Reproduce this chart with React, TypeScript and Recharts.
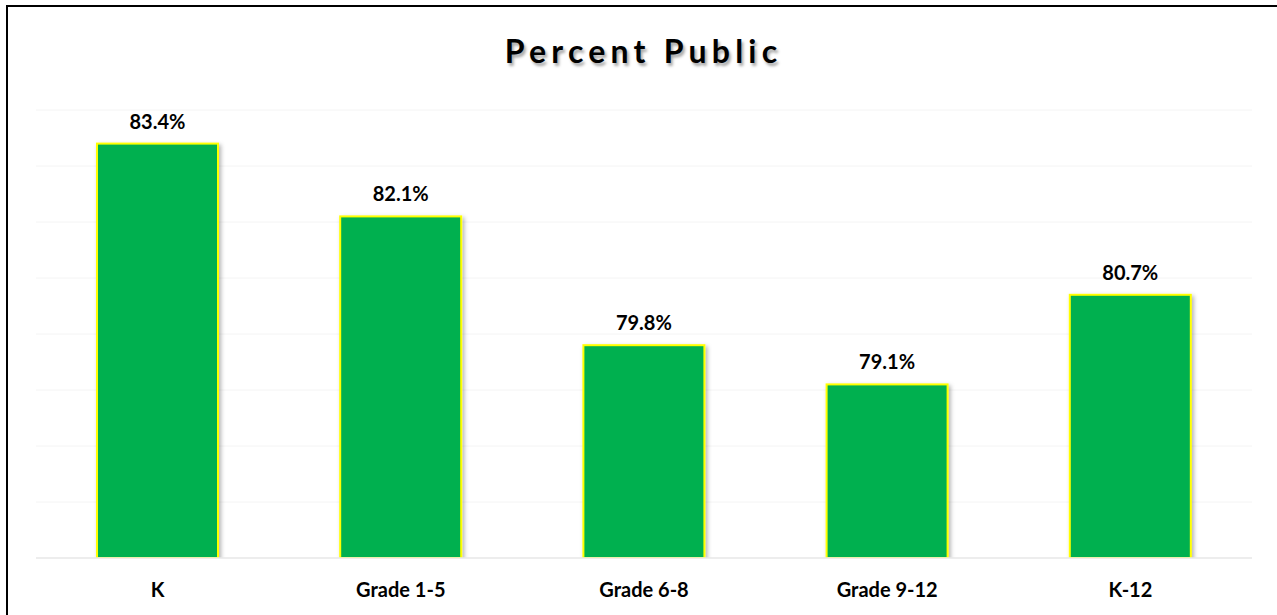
import React from "react";
import { BarChart, Bar, XAxis, YAxis, CartesianGrid, LabelList } from "recharts";

const categories = ["K", "Grade 1-5", "Grade 6-8", "Grade 9-12", "K-12"];
const percentPublic = [83.4, 82.1, 79.8, 79.1, 80.7];
const yTicks = [76, 77, 78, 79, 80, 81, 82, 83, 84];

const data = categories.map((c, i) => ({ name: c, value: percentPublic[i] }));

const FONT = "Lato, 'Open Sans', sans-serif";

const BarShape = (props: any) => {
  const { x, y, width, height } = props;
  return (
    <rect
      x={x}
      y={y}
      width={width}
      height={height}
      fill="#00B050"
      stroke="#FFFF00"
      strokeWidth={2}
      filter="url(#barShadow)"
    />
  );
};

export default function App() {
  return (
    <div
      style={{
        position: "absolute",
        left: 0,
        top: 0,
        width: 1277,
        height: 615,
        overflow: "hidden",
        background: "#ffffff",
      }}
    >
      <div
        style={{
          position: "absolute",
          left: 6,
          top: 5,
          width: 1400,
          height: 800,
          border: "2px solid #000",
          boxSizing: "border-box",
        }}
      />
      <div
        style={{
          position: "absolute",
          left: 0,
          top: 33,
          width: 1287,
          textAlign: "center",
          fontFamily: FONT,
          fontWeight: 700,
          fontSize: 32,
          letterSpacing: 5.2,
          color: "#000",
          lineHeight: "36px",
          textShadow: "2px 3px 3px rgba(0,0,0,0.35)",
        }}
      >
        Percent Public
      </div>
      <div style={{ position: "absolute", left: 0, top: 0 }}>
        <BarChart
          width={1277}
          height={615}
          data={data}
          margin={{ top: 110, right: 25, bottom: 7, left: 36 }}
        >
          <defs>
            <filter id="barShadow" x="-10%" y="-10%" width="130%" height="130%">
              <feDropShadow dx="2" dy="2" stdDeviation="2" floodColor="#000" floodOpacity="0.3" />
            </filter>
          </defs>
          <CartesianGrid vertical={false} stroke="#f4f4f4" strokeWidth={1} />
          <YAxis hide domain={[76, 84]} ticks={yTicks} allowDataOverflow type="number" />
          <XAxis
            dataKey="name"
            height={50}
            axisLine={{ stroke: "#e8e8e8", strokeWidth: 1.5 }}
            tickLine={false}
            tickMargin={19}
            tick={{ fill: "#000", fontFamily: FONT, fontWeight: 700, fontSize: 20 }}
            interval={0}
          />
          <Bar dataKey="value" barSize={121} isAnimationActive={false} shape={BarShape}>
            <LabelList
              dataKey="value"
              position="top"
              offset={15}
              formatter={(v: any) => `${Number(v).toFixed(1)}%`}
              style={{ fill: "#000", fontFamily: FONT, fontWeight: 700, fontSize: 20 }}
            />
          </Bar>
        </BarChart>
      </div>
    </div>
  );
}
